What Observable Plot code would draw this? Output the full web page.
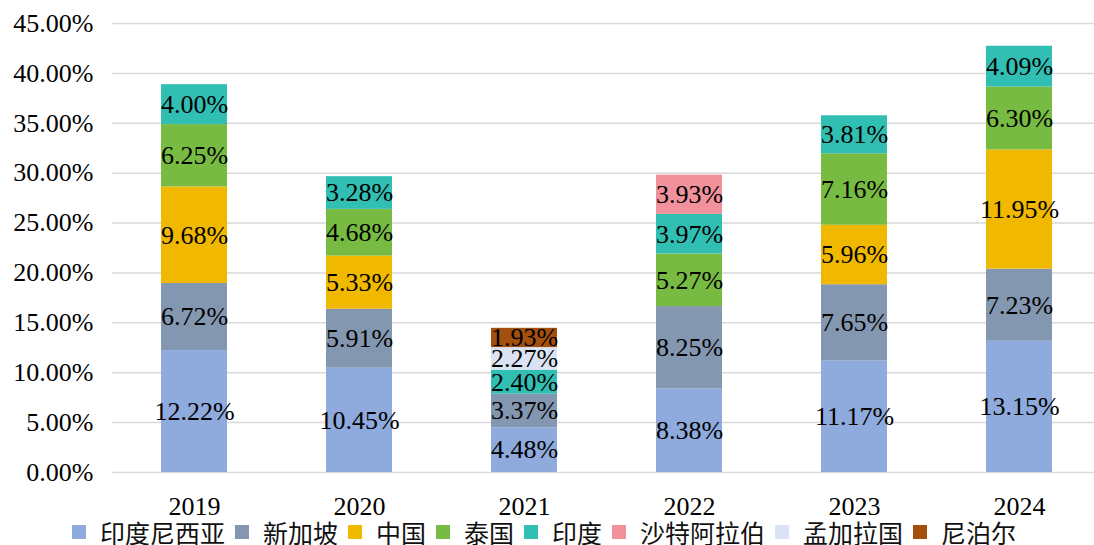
<!DOCTYPE html>
<html><head><meta charset="utf-8">
<script src="https://cdn.jsdelivr.net/npm/d3@7"></script>
<script src="https://cdn.jsdelivr.net/npm/@observablehq/plot@0.6"></script>
<style>
body{margin:0;background:#fff;width:1094px;height:545px;overflow:hidden;position:relative}
#chart svg{display:block}
#chart svg text{font-family:"Liberation Serif","Times New Roman",serif !important}
#legend{position:absolute;left:0;top:514px;height:28px;font-family:"Noto Sans CJK SC",sans-serif;font-size:25px;line-height:28px;color:#111;white-space:nowrap}
#legend .item{display:inline-flex;align-items:center;}
#legend .sw{display:inline-block;width:14px;height:14px;margin-right:14px}
#legend .lb{margin-right:10px}
</style>
</head><body>
<div id="chart"></div>
<div id="legend"></div>
<script>
const years = ["2019", "2020", "2021", "2022", "2023", "2024"];
const seriesNames = ["印度尼西亚", "新加坡", "中国", "泰国", "印度", "沙特阿拉伯", "孟加拉国", "尼泊尔"];
const seriesColors = ["#8FAADC", "#8497B0", "#F0B900", "#78BB42", "#31BFB4", "#F0919C", "#DAE3F3", "#A3500F"];
const indonesia  = [12.22, 10.45, 4.48, 8.38, 11.17, 13.15];
const singapore  = [6.72, 5.91, 3.37, 8.25, 7.65, 7.23];
const china      = [9.68, 5.33, null, null, 5.96, 11.95];
const thailand   = [6.25, 4.68, null, 5.27, 7.16, 6.30];
const india      = [4.00, 3.28, 2.40, 3.97, 3.81, 4.09];
const saudi      = [null, null, null, 3.93, null, null];
const bangladesh = [null, null, 2.27, null, null, null];
const nepal      = [null, null, 1.93, null, null, null];
const yTicks = [0, 5, 10, 15, 20, 25, 30, 35, 40, 45];

const seriesValues = [indonesia, singapore, china, thailand, india, saudi, bangladesh, nepal];
const rows = [];
seriesNames.forEach((name, si) => {
  seriesValues[si].forEach((v, yi) => {
    if (v != null) rows.push({year: years[yi], series: name, value: v});
  });
});

const chart = Plot.plot({
  width: 1094,
  height: 520,
  marginLeft: 112,
  marginRight: 0,
  marginTop: 23,
  marginBottom: 48,
  style: {fontSize: "26px", color: "#000", background: "#fff"},
  x: {domain: years, range: [112, 1102], paddingInner: 0.6, paddingOuter: 0.3},
  y: {domain: [0, 45]},
  color: {domain: seriesNames, range: seriesColors},
  marks: [
    Plot.ruleY(yTicks, {stroke: "#d9d9d9", strokeWidth: 1.5}),
    Plot.barY(rows, Plot.stackY({x: "year", y: "value", z: "series", fill: "series", order: null})),
    Plot.text(rows, Plot.stackY({x: "year", y: "value", z: "series", order: null,
      text: d => d.value.toFixed(2) + "%", fill: "#000", fontSize: 26})),
    Plot.axisY({ticks: yTicks, tickSize: 0, tickPadding: 19, tickFormat: d => d.toFixed(2) + "%", label: null, fontSize: 26}),
    Plot.axisX({tickSize: 0, tickPadding: 24, label: null, fontSize: 26})
  ]
});
document.getElementById("chart").appendChild(chart);

const legend = document.getElementById("legend");
const inner = document.createElement("div");
inner.style.position = "absolute";
inner.style.left = "72px";
inner.style.top = "0px";
seriesNames.forEach((name, i) => {
  const it = document.createElement("span");
  it.className = "item";
  const sw = document.createElement("span");
  sw.className = "sw";
  sw.style.background = seriesColors[i];
  const lb = document.createElement("span");
  lb.className = "lb";
  lb.textContent = name;
  it.appendChild(sw); it.appendChild(lb);
  inner.appendChild(it);
});
legend.appendChild(inner);
</script>
</body></html>
